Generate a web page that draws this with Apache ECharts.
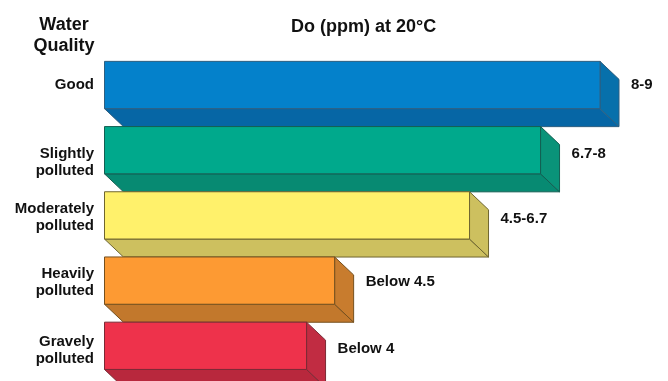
<!DOCTYPE html>
<html><head><meta charset="utf-8">
<style>html,body{margin:0;padding:0;background:#fff}#c{width:668px;height:381px}</style>
<script src="https://cdn.jsdelivr.net/npm/echarts@6/dist/echarts.min.js"></script>
</head><body><div id="c"></div>
<script>
const categories = ['Good','Slightly\npolluted','Moderately\npolluted','Heavily\npolluted','Gravely\npolluted'];
const doValues = [9, 7.92, 6.63, 4.18, 3.67];
const rangeLabels = ['8-9','6.7-8','4.5-6.7','Below 4.5','Below 4'];
const frontColors = ['#0481cb','#00a98c','#fff16b','#fd9a33','#ee324b'];
const sideColors = ['#0770ab','#0a9379','#cdc05f','#c87c2e','#c12c42'];
const bottomColors = ['#0666a5','#078a72','#cdc05f','#c2782c','#b8283d'];
const edgeColors = ['#2f5f80','#135f52','#6f6630','#75501f','#7a2a35'];
const labelShift = [0, 12.5, 2, 2, 4.5];
const valueShift = [0, 3.5, 3, 1.5, 3.5];

const dx = 19, dy = 18, barRatio = 0.725;
const font = 'Arial, "Liberation Sans", sans-serif';

function renderBar(params, api) {
  const i = params.dataIndex;
  const end = api.coord([api.value(0), i]);
  const start = api.coord([0, i]);
  const h = api.size([0, 1])[1] * barRatio;
  const x0 = start[0], x1 = end[0], y0 = end[1] - h / 2, y1 = end[1] + h / 2;
  const line = { stroke: edgeColors[i], lineWidth: 1 };
  return {
    type: 'group',
    children: [
      { type: 'polygon', shape: { points: [[x0,y1],[x1,y1],[x1+dx,y1+dy],[x0+dx,y1+dy]] },
        style: Object.assign({ fill: bottomColors[i] }, line) },
      { type: 'polygon', shape: { points: [[x1,y0],[x1+dx,y0+dy],[x1+dx,y1+dy],[x1,y1]] },
        style: Object.assign({ fill: sideColors[i] }, line) },
      { type: 'rect', shape: { x: x0, y: y0, width: x1 - x0, height: y1 - y0 },
        style: Object.assign({ fill: frontColors[i] }, line) },
      { type: 'text', x: x1 + dx + 12, y: end[1] + valueShift[i],
        style: { text: rangeLabels[i], fill: '#111', font: 'bold 15px ' + font,
                 textAlign: 'left', textVerticalAlign: 'middle' } },
      { type: 'text', x: x0 - 10.5, y: end[1] + labelShift[i],
        style: { text: categories[i], fill: '#111', font: 'bold 15px ' + font, lineHeight: 17,
                 textAlign: 'right', textVerticalAlign: 'middle' } }
    ]
  };
}

const chart = echarts.init(document.getElementById('c'), null, { renderer: 'canvas' });
chart.setOption({
  animation: false,
  backgroundColor: '#fff',
  title: [
    { text: 'Do (ppm) at 20°C', left: 286, top: 13,
      textStyle: { fontFamily: font, fontWeight: 'bold', fontSize: 18, color: '#111' } },
    { text: 'Water\nQuality', left: 59, top: 10, textAlign: 'center',
      textStyle: { fontFamily: font, fontWeight: 'bold', fontSize: 18, lineHeight: 21, color: '#111' } }
  ],
  grid: { left: 104.5, top: 52.4, width: 495.5, height: 326 },
  xAxis: { type: 'value', min: 0, max: 9, show: false },
  yAxis: {
    type: 'category', inverse: true, data: categories,
    axisLine: { show: false }, axisTick: { show: false }, axisLabel: { show: false }
  },
  series: [{
    type: 'custom', clip: false, renderItem: renderBar,
    encode: { x: 0, y: 1 },
    data: doValues.map((v, i) => [v, i])
  }]
});
</script></body></html>
